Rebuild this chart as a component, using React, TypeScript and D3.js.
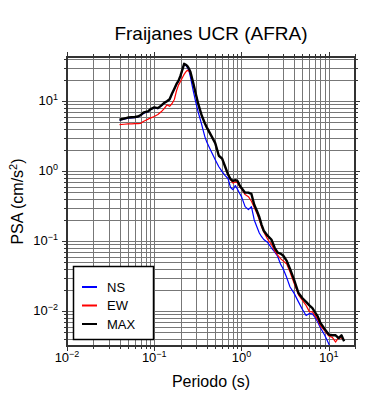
import * as d3 from 'd3';

const WIDTH = 390;
const HEIGHT = 400;
const PLOT = { left: 67, right: 355, top: 57, bottom: 346 };

// Period (s)
const PERIODS = [
  0.04, 0.045, 0.05, 0.055, 0.06, 0.065, 0.07, 0.075, 0.08, 0.085, 0.09, 0.1, 0.11, 0.12, 0.13, 0.14,
  0.15, 0.16, 0.17, 0.18, 0.19, 0.2, 0.21, 0.22, 0.23, 0.24, 0.25, 0.26, 0.28, 0.3, 0.32, 0.35, 0.38,
  0.4, 0.45, 0.5, 0.55, 0.6, 0.65, 0.7, 0.75, 0.8, 0.85, 0.9, 0.95, 1.0, 1.1, 1.2, 1.3, 1.4, 1.5, 1.6,
  1.7, 1.8, 2.0, 2.2, 2.4, 2.6, 2.8, 3.0, 3.3, 3.6, 4.0, 4.5, 5.0, 5.5, 6.0, 6.5, 7.0, 7.5, 8.0, 9.0,
  10, 11, 12, 13, 14, 15,
];

// PSA (cm/s2)
const NS = [
  5.3, 5.5, 5.7, 5.75, 5.8, 5.9, 6.2, 6.6, 6.9, 7.0, 7.5, 8.0, 7.8, 8.5, 9.3, 9.8,
  10.5, 12.6, 14.8, 17.2, 19.2, 22.5, 27.5, 33.5, 32.5, 30, 27, 22, 14, 9.5, 6.8, 4.6, 3.1,
  2.6, 1.9, 1.45, 1.15, 0.98, 0.86, 0.78, 0.58, 0.54, 0.62, 0.55, 0.48, 0.43, 0.31, 0.28, 0.31, 0.2, 0.16, 0.13,
  0.115, 0.105, 0.095, 0.08, 0.07, 0.06, 0.047, 0.04, 0.03, 0.022, 0.018, 0.0135, 0.0105, 0.0086, 0.0092, 0.0091, 0.008, 0.0069, 0.0058, 0.0045,
  0.0034, 0.0026, 0.0021, 0.0018, 0.0016, 0.0015,
];

const EW = [
  4.6, 4.65, 4.7, 4.7, 4.75, 4.75, 4.8, 5.1, 5.3, 5.5, 5.7, 6.0, 6.4, 7.0, 7.8, 8.8,
  8.4, 9.2, 10.5, 14, 17, 19, 21.5, 24, 26, 27.5, 26.5, 25, 18, 12.5, 9, 6.2, 4.8,
  4.2, 3.2, 2.5, 1.65, 1.5, 1.15, 0.88, 0.75, 0.67, 0.7, 0.68, 0.6, 0.56, 0.46, 0.43, 0.37, 0.3, 0.25, 0.2,
  0.16, 0.135, 0.105, 0.09, 0.072, 0.063, 0.056, 0.052, 0.047, 0.036, 0.025, 0.017, 0.0142, 0.012, 0.0098, 0.0097, 0.0085, 0.0075, 0.0062, 0.0052,
  0.0044, 0.0042, 0.0036, 0.0042, 0.0041, 0.0038,
];

const MAX = [
  5.4, 5.6, 5.8, 5.85, 5.9, 6.0, 6.3, 6.8, 7.0, 7.1, 7.6, 8.1, 7.9, 8.6, 9.4, 9.9,
  10.6, 12.8, 15, 17.5, 19.5, 23, 28, 34, 33, 31.5, 29, 26, 18, 12.5, 9, 6.2, 4.8,
  4.2, 3.2, 2.5, 1.65, 1.5, 1.15, 0.9, 0.76, 0.72, 0.74, 0.72, 0.63, 0.57, 0.49, 0.49, 0.47, 0.33, 0.27, 0.22,
  0.17, 0.14, 0.118, 0.105, 0.08, 0.068, 0.066, 0.062, 0.052, 0.04, 0.028, 0.018, 0.0152, 0.0135, 0.012, 0.011, 0.0095, 0.0083, 0.0068, 0.0055,
  0.0046, 0.0045, 0.0045, 0.0041, 0.0045, 0.0037,
];

const SERIES = [
  { name: 'NS', values: NS, color: '#0000ff', width: 1.2 },
  { name: 'EW', values: EW, color: '#ff0000', width: 1.2 },
  { name: 'MAX', values: MAX, color: '#000000', width: 2.4 },
];

const X_MAJOR = [0.01, 0.1, 1, 10];
const X_EXP = ['\u22122', '\u22121', '0', '1'];
const Y_MAJOR = [0.01, 0.1, 1, 10];
const Y_EXP = ['\u22122', '\u22121', '0', '1'];

const FONT = '"Liberation Sans", Arial, Helvetica, sans-serif';

export default function App() {
  const x = d3.scaleLog().domain([0.01, 20]).range([PLOT.left, PLOT.right]);
  const y = d3.scaleLog().domain([0.00316, 42.5]).range([PLOT.bottom, PLOT.top]);

  const xGrid = x.ticks();
  const yGrid = y.ticks();
  const isMajor = (v: number) => Math.abs(Math.log10(v) - Math.round(Math.log10(v))) < 1e-6;

  const line = (vals: number[]) =>
    d3
      .line<number>()
      .x((_, i) => x(PERIODS[i]))
      .y((d) => y(d))(vals) || '';

  const px = (v: number) => Math.round(v) + 0.5;

  return (
    <svg width={WIDTH} height={HEIGHT} style={{ display: 'block', margin: '-8px' }} fontFamily={FONT}>
      <rect width={WIDTH} height={HEIGHT} fill="#fff" />
      <defs>
        <clipPath id="plot-clip">
          <rect x={PLOT.left} y={PLOT.top} width={PLOT.right - PLOT.left} height={PLOT.bottom - PLOT.top} />
        </clipPath>
      </defs>

      {/* title */}
      <text x={(PLOT.left + PLOT.right) / 2} y={40} textAnchor="middle" fontSize={19}>
        Fraijanes UCR (AFRA)
      </text>

      {/* grid */}
      <g stroke="#777" strokeWidth={1}>
        {xGrid.map((t) => (
          <line key={'gx' + t} x1={px(x(t))} x2={px(x(t))} y1={PLOT.top} y2={PLOT.bottom} />
        ))}
        {yGrid.map((t) => (
          <line key={'gy' + t} x1={PLOT.left} x2={PLOT.right} y1={px(y(t))} y2={px(y(t))} />
        ))}
      </g>

      {/* ticks on all four sides */}
      <g stroke="#333" strokeWidth={1}>
        {xGrid.map((t) => {
          const len = isMajor(t) ? 5 : 3;
          return (
            <g key={'tx' + t}>
              <line x1={px(x(t))} x2={px(x(t))} y1={PLOT.bottom} y2={PLOT.bottom + len} />
              <line x1={px(x(t))} x2={px(x(t))} y1={PLOT.top} y2={PLOT.top - len} />
            </g>
          );
        })}
        {yGrid.map((t) => {
          const len = isMajor(t) ? 5 : 3;
          return (
            <g key={'ty' + t}>
              <line x1={PLOT.left} x2={PLOT.left - len} y1={px(y(t))} y2={px(y(t))} />
              <line x1={PLOT.right} x2={PLOT.right + len} y1={px(y(t))} y2={px(y(t))} />
            </g>
          );
        })}
      </g>

      {/* curves */}
      <g clipPath="url(#plot-clip)" fill="none" strokeLinejoin="round">
        {SERIES.map((s) => (
          <path key={s.name} d={line(s.values)} stroke={s.color} strokeWidth={s.width} />
        ))}
      </g>

      {/* frame */}
      <rect
        x={PLOT.left}
        y={PLOT.top}
        width={PLOT.right - PLOT.left}
        height={PLOT.bottom - PLOT.top}
        fill="none"
        stroke="#333"
        strokeWidth={2}
      />

      {/* x tick labels */}
      {X_MAJOR.map((t, i) => (
        <text key={'lx' + t} x={x(t)} y={362} textAnchor="middle" fontSize={13}>
          10
          <tspan dy={-5} fontSize={9}>
            {X_EXP[i]}
          </tspan>
        </text>
      ))}

      {/* y tick labels */}
      {Y_MAJOR.map((t, i) => (
        <text key={'ly' + t} x={58} y={y(t) + 4.5} textAnchor="end" fontSize={13}>
          10
          <tspan dy={-5} fontSize={9}>
            {Y_EXP[i]}
          </tspan>
        </text>
      ))}

      {/* axis titles */}
      <text x={(PLOT.left + PLOT.right) / 2} y={387} textAnchor="middle" fontSize={16}>
        Periodo (s)
      </text>
      <text
        transform={`translate(23, ${(PLOT.top + PLOT.bottom) / 2}) rotate(-90)`}
        textAnchor="middle"
        fontSize={16}
      >
        PSA (cm/s
        <tspan dy={-6} fontSize={11}>
          2
        </tspan>
        <tspan dy={6}>)</tspan>
      </text>

      {/* legend */}
      <g>
        <rect x={73.5} y={266.5} width={80} height={73} fill="#fff" stroke="#000" strokeWidth={1.5} />
        {SERIES.map((s, i) => {
          const ly = 287 + i * 18.5;
          return (
            <g key={'lg' + s.name}>
              <line x1={82} x2={97} y1={ly} y2={ly} stroke={s.color} strokeWidth={2} />
              <text x={107} y={ly + 4.5} fontSize={13}>
                {s.name}
              </text>
            </g>
          );
        })}
      </g>
    </svg>
  );
}
